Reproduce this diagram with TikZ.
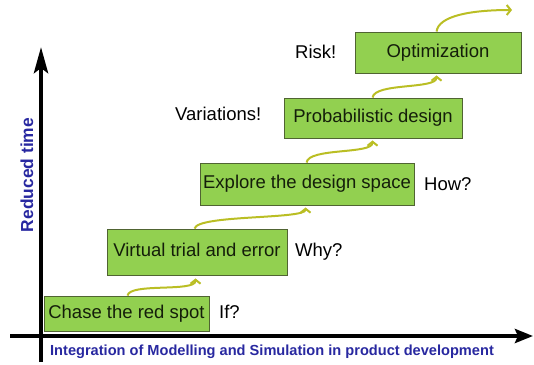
\documentclass[tikz,border=0pt]{standalone}
\usepackage{fontspec}
\setmainfont{Liberation Sans}
\usetikzlibrary{arrows.meta,calc}
\definecolor{boxgreen}{RGB}{146,208,80}
\definecolor{boxline}{RGB}{80,100,50}
\definecolor{boxtext}{RGB}{20,30,10}
\definecolor{conncol}{RGB}{186,190,36}
\definecolor{axisblue}{RGB}{40,40,160}
\tikzset{
  stepbox/.style={draw=boxline, line width=0.9pt, fill=boxgreen, text=boxtext,
    font=\fontsize{18.5}{20}\selectfont, inner sep=0pt, text height=0.94em, text depth=0pt},
  sidelabel/.style={anchor=west, inner sep=0pt, font=\fontsize{18.5}{20}\selectfont, text=black,
    text height=0.83em, text depth=0pt},
  conn/.style={draw=conncol, line width=2pt, -{Straight Barb[length=4pt,width=10pt]}},
  axisline/.style={line width=4.5pt, black},
  axislabel/.style={text=axisblue, font=\bfseries\fontsize{14.6}{16}\selectfont, inner sep=0pt}
}
\begin{document}
\begin{tikzpicture}[x=1pt,y=-1pt]
\useasboundingbox (0,0) rectangle (534,364);
% axes
\coordinate (yaxb) at (41,362);
\coordinate (yaxt) at (41,47);
\coordinate (xaxl) at (10,336);
\coordinate (xaxr) at (533,336);
\draw[axisline, -{Stealth[length=26pt,width=14pt,inset=5pt]}] (yaxb) -- (yaxt);
\draw[axisline, -{Stealth[length=18pt,width=14pt,inset=3pt]}] (xaxl) -- (xaxr);
\node[axislabel, rotate=90, font=\bfseries\fontsize{17.4}{19}\selectfont] (ylab) at (27,175) {Reduced time};
\node[axislabel] (xlab) at (272,352) {Integration of Modelling and Simulation in product development};
% boxes
\node[stepbox, minimum width=165pt, minimum height=35pt] (b1) at (126.5,313.5) {Chase the red spot};
\node[stepbox, minimum width=180pt, minimum height=46pt] (b2) at (197,252) {Virtual trial and error};
\node[stepbox, minimum width=214pt, minimum height=42pt] (b3) at (307,184) {Explore the design space};
\node[stepbox, minimum width=178pt, minimum height=40pt] (b4) at (373,118) {Probabilistic design};
\node[stepbox, minimum width=166pt, minimum height=41pt] (b5) at (438,52.5) {Optimization};
% side labels
\node[sidelabel] (l1) at (219,314) {If?};
\node[sidelabel] (l2) at (295,252) {Why?};
\node[sidelabel] (l3) at (424,186) {How?};
\node[sidelabel] (l4) at (175,116) {Variations!};
\node[sidelabel] (l5) at (295,54) {Risk!};
% connectors
\coordinate (s1) at ($(b1.north west)+(84,0)$);
\coordinate (e1) at ($(b2.south west)+(89,3)$);
\coordinate (s2) at ($(b2.north west)+(88,0)$);
\coordinate (e2) at ($(b3.south west)+(106,2)$);
\coordinate (s3) at ($(b3.north west)+(107,0)$);
\coordinate (e3) at ($(b4.south west)+(89,2)$);
\coordinate (s4) at ($(b4.north west)+(89,0)$);
\coordinate (e4) at ($(b5.south west)+(82,2)$);
\coordinate (s5) at ($(b5.north west)+(82,0)$);
\coordinate (e5) at (512,10);
\draw[conn] (s1) .. controls +(2,-13) and +(0,14) .. (e1);
\draw[conn] (s2) .. controls +(3,-14) and +(0,12) .. (e2);
\draw[conn] (s3) .. controls +(2,-15) and +(0,14) .. (e3);
\draw[conn] (s4) .. controls +(2,-15) and +(0,14) .. (e4);
\draw[conn] (s5) .. controls +(2,-16) and +(-40,0) .. (e5);
\end{tikzpicture}
\end{document}
